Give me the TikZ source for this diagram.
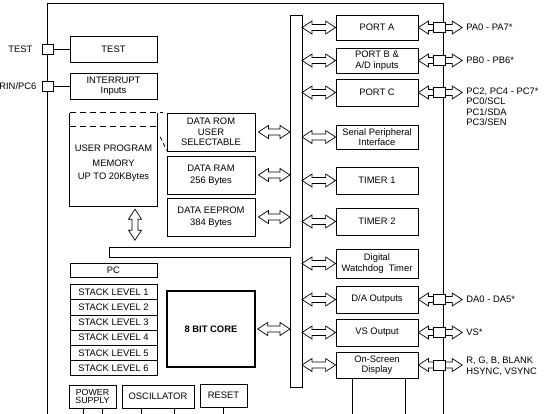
\documentclass[tikz,border=0pt]{standalone}
\usepackage{fontspec}
\setmainfont{Liberation Sans}
\usetikzlibrary{calc,positioning,backgrounds}

\newcommand{\blkfont}{\fontsize{9.4}{10.5}\selectfont}

\tikzset{
  line/.style={line width=0.8pt},
  blk/.style={draw, line width=0.8pt, rectangle, inner sep=0pt, align=center, font=\blkfont},
  rblk/.style={blk, minimum width=82},
  lblk/.style={blk, minimum width=87},
  mblk/.style={blk, minimum width=88, minimum height=38},
  pinbox/.style={draw, line width=0.8pt, fill=white, rectangle, inner sep=0pt, minimum width=12, minimum height=10},
  pinlbl/.style={inner sep=0pt, align=left, font=\blkfont},
  arr/.style={draw, line width=0.7pt, fill=white, line join=miter},
}

% horizontal hollow double arrow
\newcommand{\dblarrow}[2]{%
  \draw[arr] let \p1=#1, \p2=#2 in
    (\x1,\y1) -- (\x1+10pt,\y1+6.5pt) -- (\x1+10pt,\y1+3pt) -- (\x2-10pt,\y1+3pt)
    -- (\x2-10pt,\y1+6.5pt) -- (\x2,\y1) -- (\x2-10pt,\y1-6.5pt) -- (\x2-10pt,\y1-3pt)
    -- (\x1+10pt,\y1-3pt) -- (\x1+10pt,\y1-6.5pt) -- cycle;}
% vertical hollow double arrow
\newcommand{\vdblarrow}[2]{%
  \draw[arr] let \p1=#1, \p2=#2 in
    (\x1,\y1) -- (\x1+6.5pt,\y1-10pt) -- (\x1+3pt,\y1-10pt) -- (\x1+3pt,\y2+10pt)
    -- (\x1+6.5pt,\y2+10pt) -- (\x1,\y2) -- (\x1-6.5pt,\y2+10pt) -- (\x1-3pt,\y2+10pt)
    -- (\x1-3pt,\y1-10pt) -- (\x1-6.5pt,\y1-10pt) -- cycle;}

\begin{document}
\begin{tikzpicture}[x=1pt,y=-1pt]
  \useasboundingbox (0,0) rectangle (544,413);
  \clip (0,0) rectangle (544,413);

  % chip outline
  \draw[line] (47,420) -- (47,3) -- (443,3) -- (443,420);

  % internal bus
  \coordinate (busL) at (290,0);
  \coordinate (busR) at (302,0);
  \draw[line] (302,15) -- (290,15) -- (290,247) -- (109,247) -- (109,257)
    -- (290,257) -- (290,387) -- (302,387) -- cycle;

  % peripherals
  \node[rblk, minimum height=25] (porta) at (377,27.5) {PORT A};
  \node[rblk, minimum height=25] (portb) at (377,60.5) {PORT B \&\\A/D inputs};
  \node[rblk, minimum height=27] (portc) at (377,92.5) {PORT C};
  \node[rblk, minimum height=24] (spi) at (377,137) {Serial Peripheral\\Interface};
  \node[rblk, minimum height=27] (tmra) at (377,180.5) {TIMER 1};
  \node[rblk, minimum height=27] (tmrb) at (377,221.5) {TIMER 2};
  \node[rblk, minimum height=29] (wdt) at (377,263.5) {Digital\\Watchdog~~Timer};
  \node[rblk, minimum height=27] (dac) at (377,299.5) {D/A Outputs};
  \node[rblk, minimum height=27] (vso) at (377,332.5) {VS Output};
  \node[rblk, minimum height=26] (osd) at (377,365) {On-Screen\\Display};

  \foreach \b in {porta,portb,portc,spi,tmra,tmrb,wdt,dac,vso,osd}
    \dblarrow{(busR |- \b)}{(\b.west)};

  % output pins
  \node[pinbox, right=15pt of porta] (pa) {};
  \node[pinbox, right=15pt of portb] (pb) {};
  \node[pinbox, right=15pt of portc] (pc) {};
  \node[pinbox, right=15pt of dac] (pd) {};
  \node[pinbox, right=15pt of vso] (pv) {};
  \node[pinbox, right=15pt of osd] (po) {};
  \begin{scope}[on background layer]
    \dblarrow{(porta.east)}{($(pa.east)+(16,0)$)}
    \dblarrow{(portb.east)}{($(pb.east)+(16,0)$)}
    \dblarrow{(portc.east)}{($(pc.east)+(16,0)$)}
    \dblarrow{(dac.east)}{($(pd.east)+(16,0)$)}
    \dblarrow{(vso.east)}{($(pv.east)+(16,0)$)}
    \dblarrow{(osd.east)}{($(po.east)+(16,0)$)}
  \end{scope}
  \node[pinlbl, right=20pt of pa] {PA0 - PA7*};
  \node[pinlbl, right=20pt of pb] {PB0 - PB6*};
  \node[pinlbl, anchor=north west] at ([xshift=20pt,yshift=5pt]pc.east)
    {PC2, PC4 - PC7*\\PC0/SCL\\PC1/SDA\\PC3/SEN};
  \node[pinlbl, right=20pt of pd] {DA0 - DA5*};
  \node[pinlbl, right=20pt of pv] {VS*};
  \node[pinlbl, anchor=north west] at ([xshift=20pt,yshift=8pt]po.east)
    {R, G, B, BLANK\\HSYNC, VSYNC};
  \draw[line] ([xshift=-25]osd.south) -- ++(0,40);
  \draw[line] ([xshift=28]osd.south) -- ++(0,40);

  % test and interrupt
  \node[lblk, minimum height=26] (test) at (113.5,49) {TEST};
  \node[lblk, minimum height=26] (intr) at (113.5,86) {INTERRUPT\\Inputs};
  \node[pinbox, minimum width=11] (ptest) at (47.5,49.5) {};
  \node[pinbox, minimum width=11] (pintr) at (47.5,86.5) {};
  \draw[line] (ptest.east) -- (ptest.east -| test.west);
  \draw[line] (pintr.east) -- (pintr.east -| intr.west);
  \node[pinlbl, left=9pt of ptest] {TEST};
  \node[pinlbl, left=5pt of pintr] {RIN/PC6};

  % program memory
  \node[minimum width=87, minimum height=93, inner sep=0pt, align=center,
    font=\blkfont] (upm) at (113.5,159.5)
    {\\[3pt]USER PROGRAM\\[5pt]MEMORY\\[2pt]UP TO 20KBytes};
  \draw[line] (upm.north west) -- (upm.south west) -- (upm.south east) -- (upm.north east);
  \draw[line, dash pattern=on 6pt off 4pt] (upm.north west) -- ++(93,0);
  \draw[line, dash pattern=on 6pt off 4pt] ($(upm.north west)+(0,14)$) -- ($(upm.north east)+(0,14)$);

  % data memories
  \node[mblk] (drom) at (211,132) {DATA ROM\\USER\\SELECTABLE};
  \node[mblk] (dram) at (211,175) {DATA RAM\\[2pt]256 Bytes};
  \node[mblk] (deep) at (211,217) {DATA EEPROM\\[2pt]384 Bytes};
  \draw[line, dash pattern=on 4pt off 3pt] ($(upm.north east)+(3,24)$) -- ($(drom.south west)+(0,-1)$);
  \foreach \m in {drom,dram,deep}
    \dblarrow{([xshift=3]\m.east)}{(busL |- \m)};
  \vdblarrow{($(upm.south)+(21.5,3)$)}{($(upm.south)+(21.5,34)$)}

  % program counter and stack
  \node[lblk, minimum height=14] (pcnt) at (113.5,270) {PC};
  \foreach \i in {1,...,6}
    \node[lblk, minimum height=15.2] (stk\i) at (113.5,{292.1+15.2*(\i-1)}) {STACK LEVEL \i};

  % core
  \node[blk, line width=1.4pt, minimum width=88, minimum height=76,
    font=\blkfont\bfseries] (core) at (211,329) {8 BIT CORE};
  \dblarrow{([xshift=2]core.east)}{(busL |- core)}

  % power, clock, reset
  \node[blk, minimum width=47, minimum height=23, font=\fontsize{8.8}{7.5}\selectfont]
    (pwr) at (92.5,396.5) {POWER\\SUPPLY};
  \node[blk, minimum width=72, minimum height=23] (osc) at (158,396.5) {OSCILLATOR};
  \node[blk, minimum width=47, minimum height=23] (rst) at (223.5,395.5) {RESET};
  \draw[line] ([xshift=-9.5]pwr.south) -- ++(0,10);
  \draw[line] ([xshift=9.5]pwr.south) -- ++(0,10);
  \draw[line] ([xshift=-17]osc.south) -- ++(0,10);
  \draw[line] ([xshift=16]osc.south) -- ++(0,10);
  \draw[line] (rst.south) -- ++(0,10);
\end{tikzpicture}
\end{document}
